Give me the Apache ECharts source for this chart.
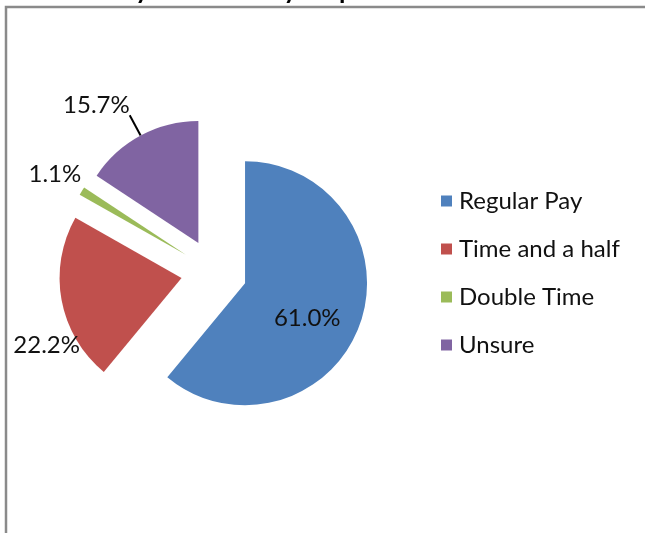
<!DOCTYPE html>
<html>
<head>
<meta charset="utf-8">
<script src="https://cdn.jsdelivr.net/npm/echarts@6/dist/echarts.min.js"></script>
<style>
  html, body { margin: 0; padding: 0; background: #fff; }
  #chart { width: 645px; height: 533px; }
</style>
</head>
<body>
<div id="chart"></div>
<script>
  // data
  const categories = ['Regular Pay', 'Time and a half', 'Double Time', 'Unsure']
  const shares = [61.0, 22.2, 1.1, 15.7]
  const colors = ['#4F81BD', '#C0504D', '#9BBB59', '#8064A2']
  const titleText = 'Pay for Saturdays is paid for overtime'

  const font = 'Lato, "Open Sans", sans-serif'

  // nudge for each label (Excel "best fit" places them a bit differently)
  const labelNudge = [[2, 13], [46, 41], [24, -5], [5, -10]]

  const chartDom = document.getElementById('chart')
  const myChart = echarts.init(chartDom)
  let option

  option = {
    backgroundColor: '#fff',
    animation: false,
    title: {
      text: titleText,
      left: 'center',
      top: -27,
      textStyle: { fontFamily: font, fontSize: 26, fontWeight: 'bold', color: '#000' }
    },
    graphic: [
      {
        type: 'rect',
        z: -1,
        shape: { x: 6, y: 7, width: 700, height: 600 },
        style: { fill: 'none', stroke: '#8a8a8a', lineWidth: 2.5 }
      }
    ],
    legend: {
      orient: 'vertical',
      left: 436,
      top: 184,
      itemWidth: 11,
      itemHeight: 11,
      itemGap: 24,
      icon: 'rect',
      selectedMode: false,
      data: categories,
      textStyle: { fontFamily: font, fontSize: 24, color: '#111', padding: [0, 0, 0, 2] }
    },
    series: [
      {
        type: 'pie',
        center: [214, 272],
        radius: 122,
        startAngle: 90,
        clockwise: true,
        selectedMode: 'multiple',
        selectedOffset: 33,
        avoidLabelOverlap: false,
        emphasis: { disabled: true },
        label: {
          show: true,
          position: 'outside',
          formatter: p => p.value.toFixed(1) + '%',
          fontFamily: font,
          fontSize: 24,
          color: '#111'
        },
        labelLine: { show: true, length: 23, length2: 0, lineStyle: { color: '#000', width: 2 } },
        labelLayout: function (params) {
          const n = labelNudge[params.dataIndex]
          return { dx: n[0], dy: n[1] }
        },
        data: categories.map((name, i) => ({
          name: name,
          value: shares[i],
          selected: true,
          itemStyle: { color: colors[i] },
          label: i === 0 ? { position: 'inside' } : undefined,
          labelLine: i === 3 ? undefined : { show: false }
        }))
      }
    ]
  }

  option && myChart.setOption(option)
</script>
</body>
</html>
